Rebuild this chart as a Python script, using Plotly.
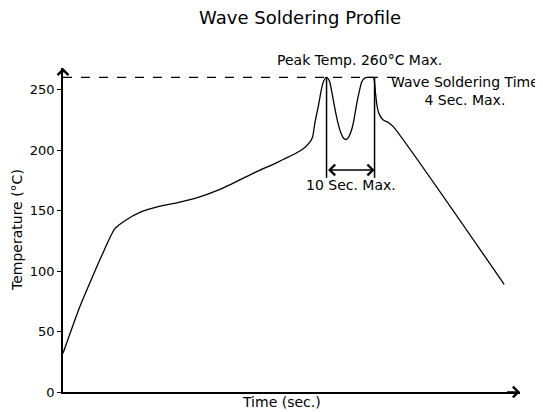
import plotly.graph_objects as go

# Temperature profile (time in sec., temperature in °C)
time_s = [0, 3.5, 6.3, 8.1, 10.8, 12.9, 16.0, 20.2, 23.7, 27.5, 32.7, 39.6, 45.2, 49.7,
          51.5, 52.0, 52.5, 53.2, 53.8, 54.3, 54.9, 55.5, 56.0, 56.7, 57.3, 57.9, 58.5,
          59.0, 59.4, 60.1, 60.6, 61.2, 61.7, 62.2, 62.7, 63.3, 64.0, 64.7, 64.9, 65.1,
          65.4, 65.8, 66.7, 67.7, 68.8, 91.9]
temp_c = [32, 70.5, 96.7, 113, 135, 141.6, 148.5, 153.7, 156.4, 160, 167.4, 180.7, 190.9, 200,
          207, 211, 223, 236.4, 249.6, 257, 260, 257, 248, 233, 222, 214, 209.5,
          208.7, 210, 216.5, 224.8, 238.6, 248, 256, 259, 260, 260, 260, 256, 247,
          237, 230.3, 224.8, 223, 219.3, 89]

y_ticks = [0, 50, 100, 150, 200, 250]
peak_temp = 260
window_start, window_end = 54.9, 64.9

title_text = "Wave Soldering Profile"
peak_label = "Peak Temp. 260°C Max."
wave_label = "Wave Soldering Time<br>4 Sec. Max."
window_label = "10 Sec. Max."
x_title = "Time (sec.)"
y_title = "Temperature (°C)"

FONT = "DejaVu Sans"
X_MAX = 95.2
Y_MAX = 267.8
ANN_SIZE = 14

fig = go.Figure()
fig.add_trace(go.Scatter(x=time_s, y=temp_c, mode="lines",
                         line=dict(color="black", width=1.3, shape="spline", smoothing=0.6),
                         hoverinfo="skip", showlegend=False, cliponaxis=False))

# dashed peak line
fig.add_trace(go.Scatter(x=[0, 70.2], y=[peak_temp, peak_temp], mode="lines",
                         line=dict(color="black", width=1.3, dash="dash"),
                         hoverinfo="skip", showlegend=False, cliponaxis=False))

# vertical markers for 10-sec window
for xv in (window_start, window_end):
    fig.add_trace(go.Scatter(x=[xv, xv], y=[peak_temp, 177], mode="lines",
                             line=dict(color="black", width=1.5),
                             hoverinfo="skip", showlegend=False))

annotations = [
    # double arrow
    dict(x=window_end, y=183.5, ax=window_start, ay=183.5, xref="x", yref="y",
         axref="x", ayref="y", text="", showarrow=True, arrowhead=4, arrowside="end+start",
         arrowwidth=1.5, arrowsize=1.4, arrowcolor="black", standoff=0, startstandoff=0),
    dict(x=60.0, y=170.9, xref="x", yref="y", text=window_label,
         showarrow=False, font=dict(family=FONT, size=ANN_SIZE, color="black")),
    dict(x=61.7, y=1.025, xref="x", yref="paper", xanchor="center", yanchor="middle",
         text=peak_label, showarrow=False,
         font=dict(family=FONT, size=ANN_SIZE, color="black")),
    dict(x=83.7, y=248.6, xref="x", yref="y", xanchor="center", yanchor="middle",
         text=wave_label, showarrow=False,
         font=dict(family=FONT, size=ANN_SIZE, color="black")),
    # axis arrowheads
    dict(x=X_MAX, y=0, ax=X_MAX - 3, ay=0, xref="x", yref="y", axref="x", ayref="y",
         text="", showarrow=True, arrowhead=4, arrowwidth=1.5, arrowsize=1.4, arrowcolor="black"),
    dict(x=0, y=Y_MAX, ax=0, ay=Y_MAX - 5, xref="x", yref="y", axref="x", ayref="y",
         text="", showarrow=True, arrowhead=4, arrowwidth=1.5, arrowsize=1.4, arrowcolor="black"),
    # axis titles
    dict(x=0.479, y=-0.031, xref="paper", yref="paper", xanchor="center", yanchor="middle",
         text=x_title, showarrow=False, font=dict(family=FONT, size=ANN_SIZE, color="black")),
    dict(x=-0.1007, y=0.5, xref="paper", yref="paper", xanchor="center", yanchor="middle",
         text=y_title, textangle=-90,
         showarrow=False, font=dict(family=FONT, size=ANN_SIZE, color="black")),
]

fig.update_layout(
    width=535, height=404,
    margin=dict(l=55, r=23, t=60, b=20),
    paper_bgcolor="white", plot_bgcolor="white",
    title=dict(text=title_text, x=0.546, xanchor="center", y=0.975, yanchor="middle",
               font=dict(family=FONT, size=18, color="black")),
    font=dict(family=FONT, color="black"),
    annotations=annotations,
    xaxis=dict(range=[0, X_MAX], showline=True, linecolor="black", linewidth=1.5,
               showgrid=False, zeroline=False, showticklabels=False, ticks=""),
    yaxis=dict(range=[0, Y_MAX], showline=True, linecolor="black", linewidth=1.5,
               showgrid=False, zeroline=False, tickvals=y_ticks, ticks="outside",
               ticklen=4, tickcolor="black", tickwidth=1,
               tickfont=dict(family=FONT, size=13, color="black")),
)

fig.write_html("out.html")
